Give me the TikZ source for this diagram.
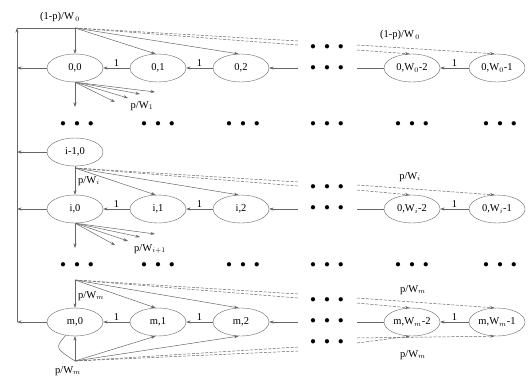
\documentclass[tikz,border=0pt]{standalone}
\usepackage{fontspec}
\setmainfont{Liberation Serif}
\usetikzlibrary{arrows.meta, positioning, shapes.geometric}

\newcommand{\tdots}{$\bullet$\hspace{8.5pt}$\bullet$\hspace{8.5pt}$\bullet$}

\begin{document}
\begin{tikzpicture}[
        x=1pt, y=-1pt, node distance=83pt, on grid,
        >={Stealth[length=4.5pt,width=3pt]},
        every node/.style={font=\fontsize{10.5}{12}\selectfont},
        st/.style={ellipse, draw=black!60, minimum width=56pt, minimum height=28pt, inner sep=0pt},
        link/.style={draw=black!60, line width=0.5pt},
        far/.style={link, dash pattern=on 3pt off 1.5pt},
        lbl/.style={inner sep=1pt},
        dotgap/.style={inner sep=0pt},
        ]
        \useasboundingbox (0,0) rectangle (530,383);

        % states, one row per stage
        \node[st] (s00) at (75,68)         {0,0};
        \node[st] (s01) [right=of s00]     {0,1};
        \node[st] (s02) [right=of s01]     {0,2};
        \node[st] (s0a) at (412,68)        {0,W$_0$-2};
        \node[st] (s0b) [right=85pt of s0a] {0,W$_0$-1};

        \node[st] (sh0) at (75,152)        {i-1,0};

        \node[st] (si0) at (75,209)        {i,0};
        \node[st] (si1) [right=of si0]     {i,1};
        \node[st] (si2) [right=of si1]     {i,2};
        \node[st] (sia) at (412,209)       {0,W$_i$-2};
        \node[st] (sib) [right=85pt of sia] {0,W$_i$-1};

        \node[st] (sm0) at (75,322)        {m,0};
        \node[st] (sm1) [right=of sm0]     {m,1};
        \node[st] (sm2) [right=of sm1]     {m,2};
        \node[st] (sma) at (412,322)       {m,W$_m$-2};
        \node[st] (smb) [right=85pt of sma] {m,W$_m$-1};

        % dots
        \foreach \dx in {77,158,243,327,412,500} {
          \node[dotgap] (da\dx) at (\dx,124) {\tdots};
          \node[dotgap] (db\dx) at (\dx,265) {\tdots};
        }
        \foreach \dy in {47,68,187,208,300,321,342}
          \node[dotgap] (dc\dy) at (327,\dy) {\tdots};

        % branch points
        \coordinate (L)  at (17,322);
        \coordinate (t0) at (75,28);
        \coordinate (ti) at (75,168);
        \coordinate (tm) at (75,280);
        \coordinate (bm) at (75,361);

        % back to the left line
        \foreach \s in {s00,sh0,si0,sm0}
          \draw[link,->] (\s) -- (\s -| L);
        \draw[link,->] (L) -- (L |- t0);
        \draw[link] (L |- t0) -- (t0);
        \node[lbl] (lt0) at (60,17) {(1-p)/W$_{\,0}$};

        % row 0
        \draw[link,->] (s01) -- node[lbl,above] (l01) {1} (s00);
        \draw[link,->] (s02) -- node[lbl,above] (l02) {1} (s01);
        \draw[link,->] (s0b) -- node[lbl,above] (l0b) {1} (s0a);
        \coordinate (r0r) at (298,68);
        \coordinate (r0l) at (357,68);
        \draw[link,->] (r0r) -- (s02);
        \draw[link] (s0a) -- (r0l);
        \draw[link,->] (t0) -- (s00);
        \draw[link,->] (t0) -- (s01.100);
        \draw[link,->] (t0) -- (s02.100);
        \coordinate (u0a) at (298,41);  \coordinate (u0b) at (298,45);
        \coordinate (v0b) at (357,45);  \coordinate (v0a) at (357,50);
        \draw[far] (t0) -- (u0a);
        \draw[far] (t0) -- (u0b);
        \draw[far,->] (v0a) -- (s0a.100);
        \draw[far,->] (v0b) -- (s0b.100);
        \node[lbl] (lr0) at (400,35) {(1-p)/W$_{\,0}$};
        \foreach \n/\ex/\ey in {a/75/107,b/155/92,c/140/94,d/128/98,e/115/102} {
          \coordinate (f0\n) at (\ex,\ey);
          \draw[link,->] (s00.south) -- (f0\n);
        }
        \node[lbl] (lf0) at (142,106) {p/W$_1$};

        % row i
        \draw[link,->] (si1) -- node[lbl,above] (li1) {1} (si0);
        \draw[link,->] (si2) -- node[lbl,above] (li2) {1} (si1);
        \draw[link,->] (sib) -- node[lbl,above] (lib) {1} (sia);
        \coordinate (rir) at (298,209);
        \coordinate (ril) at (357,209);
        \draw[link,->] (rir) -- (si2);
        \draw[link] (sia) -- (ril);
        \draw[link] (sh0) -- (ti);
        \draw[link,->] (ti) -- (si0);
        \node[lbl,anchor=west] (lti) at (77,181) {p/W$_i$};
        \draw[link,->] (ti) -- (si1.100);
        \draw[link,->] (ti) -- (si2.100);
        \coordinate (uia) at (298,182); \coordinate (uib) at (298,186);
        \coordinate (vib) at (357,185); \coordinate (via) at (357,190);
        \draw[far] (ti) -- (uia);
        \draw[far] (ti) -- (uib);
        \draw[far,->] (via) -- (sia.100);
        \draw[far,->] (vib) -- (sib.100);
        \node[lbl] (lri) at (410,177) {p/W$_i$};
        \foreach \n/\ex/\ey in {a/75/248,b/155/234,c/140/237,d/128/241,e/115/245} {
          \coordinate (fi\n) at (\ex,\ey);
          \draw[link,->] (si0.south) -- (fi\n);
        }
        \node[lbl] (lfi) at (150,249) {p/W$_{i+1}$};

        % row m
        \draw[link,->] (sm1) -- node[lbl,above] (lm1) {1} (sm0);
        \draw[link,->] (sm2) -- node[lbl,above] (lm2) {1} (sm1);
        \draw[link,->] (smb) -- node[lbl,above] (lmb) {1} (sma);
        \coordinate (rmr) at (298,322);
        \coordinate (rml) at (357,322);
        \draw[link,->] (rmr) -- (sm2);
        \draw[link] (sma) -- (rml);
        \draw[link,->] (tm) -- (sm0);
        \node[lbl,anchor=west] (ltm) at (77,296) {p/W$_m$};
        \draw[link,->] (tm) -- (sm1.100);
        \draw[link,->] (tm) -- (sm2.100);
        \coordinate (uma) at (298,294); \coordinate (umb) at (298,298);
        \coordinate (vmb) at (357,298); \coordinate (vma) at (357,303);
        \draw[far] (tm) -- (uma);
        \draw[far] (tm) -- (umb);
        \draw[far,->] (vma) -- (sma.100);
        \draw[far,->] (vmb) -- (smb.100);
        \node[lbl] (lrm) at (413,290) {p/W$_m$};

        \draw[link] (sm0.235) .. controls (55,348) .. (bm);
        \draw[link,->] (bm) -- (sm0);
        \draw[link,->] (bm) -- (sm1.260);
        \draw[link,->] (bm) -- (sm2.260);
        \coordinate (xma) at (298,347); \coordinate (xmb) at (298,351);
        \coordinate (ymb) at (357,338); \coordinate (yma) at (357,343);
        \draw[far] (bm) -- (xma);
        \draw[far] (bm) -- (xmb);
        \draw[far,->] (yma) -- (sma.260);
        \draw[far,->] (ymb) -- (smb.260);
        \node[lbl] (lbm) at (413,355) {p/W$_m$};
        \node[lbl] (lbm0) at (68,371) {p/W$_m$};
      \end{tikzpicture}
\end{document}
